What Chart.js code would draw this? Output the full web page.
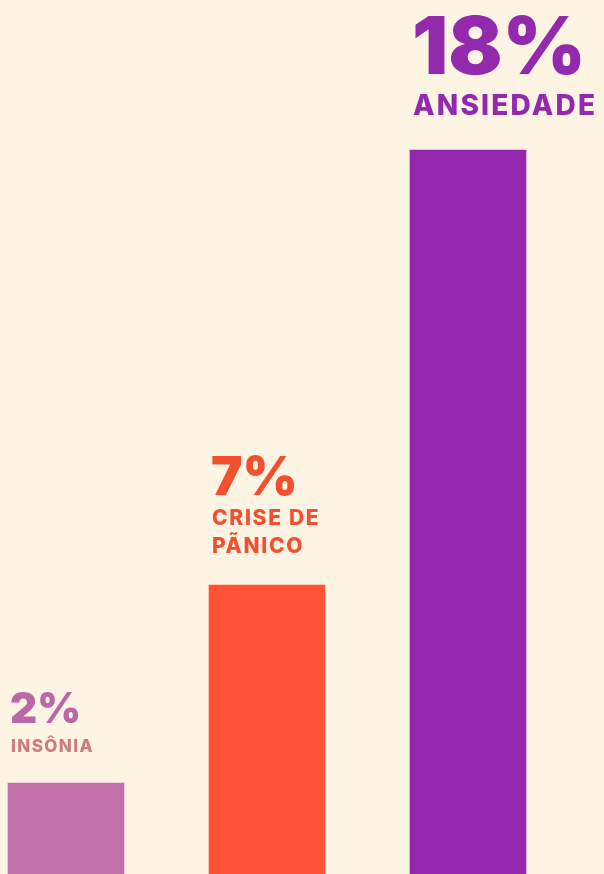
<!DOCTYPE html>
<html>
<head>
<meta charset="utf-8">
<script src="https://cdn.jsdelivr.net/npm/chart.js@4"></script>
<style>
  html, body { margin: 0; padding: 0; background: #fdf4e4; overflow: hidden; }
  #chart { display: block; }
</style>
</head>
<body>
<canvas id="chart" width="604" height="874"></canvas>
<script>
// Chart data
const categories = ['INSÔNIA', 'CRISE DE PÃNICO', 'ANSIEDADE'];
const labelLines = [['INSÔNIA'], ['CRISE DE', 'PÃNICO'], ['ANSIEDADE']];
const percentages = [2, 7, 18];
const barColors = ['#c271ab', '#ff5236', '#9526ae'];

// Text styles for each bar's annotation (number size, label size, colours, gaps)
const textStyles = [
    { num: 42, label: 17, numColor: '#bb68a8', labelColor: '#cf7a80', bottomGap: 31, numGap: 29 },
    { num: 53, label: 21, numColor: '#f4502f', labelColor: '#f4502f', bottomGap: 32, numGap: 30 },
    { num: 80, label: 28, numColor: '#9329ad', labelColor: '#9329ad', bottomGap: 35, numGap: 41 }
];

// Draws the big percentage and the label above every bar
const barLabels = {
    id: 'barLabels',
    afterDatasetsDraw(chart) {
        const ctx = chart.ctx;
        const meta = chart.getDatasetMeta(0);
        meta.data.forEach((bar, i) => {
            const s = textStyles[i];
            const left = bar.x - bar.width / 2 + 3;
            const lines = labelLines[i];
            const lineHeight = s.label * 1.33;
            ctx.save();
            ctx.textAlign = 'left';
            ctx.textBaseline = 'alphabetic';
            ctx.font = '800 ' + s.label + 'px Inter';
            ctx.letterSpacing = (s.label * 0.08).toFixed(1) + 'px';
            ctx.fillStyle = s.labelColor;
            let y = bar.y - s.bottomGap - (lines.length - 1) * lineHeight;
            const firstLine = y;
            lines.forEach(line => {
                ctx.fillText(line, left, y);
                y += lineHeight;
            });
            ctx.letterSpacing = '0px';
            ctx.font = '900 ' + s.num + 'px Inter';
            ctx.fillStyle = s.numColor;
            ctx.fillText(percentages[i] + '%', left - 1, firstLine - s.numGap);
            ctx.restore();
        });
    }
};

const ctx = document.getElementById('chart').getContext('2d');
const myChart = new Chart(ctx, {
    type: 'bar',
    data: {
        labels: categories,
        datasets: [{
            data: percentages,
            backgroundColor: barColors,
            borderWidth: 0,
            barThickness: 116,
            base: -0.3,
            clip: false
        }]
    },
    options: {
        responsive: false,
        animation: false,
        layout: { padding: { left: 66, right: 136, top: 150, bottom: 0 } },
        plugins: { legend: { display: false }, tooltip: { enabled: false } },
        scales: {
            x: { display: false, offset: false },
            y: { display: false, min: -0.3, max: 18 }
        }
    },
    plugins: [barLabels]
});
</script>
</body>
</html>
